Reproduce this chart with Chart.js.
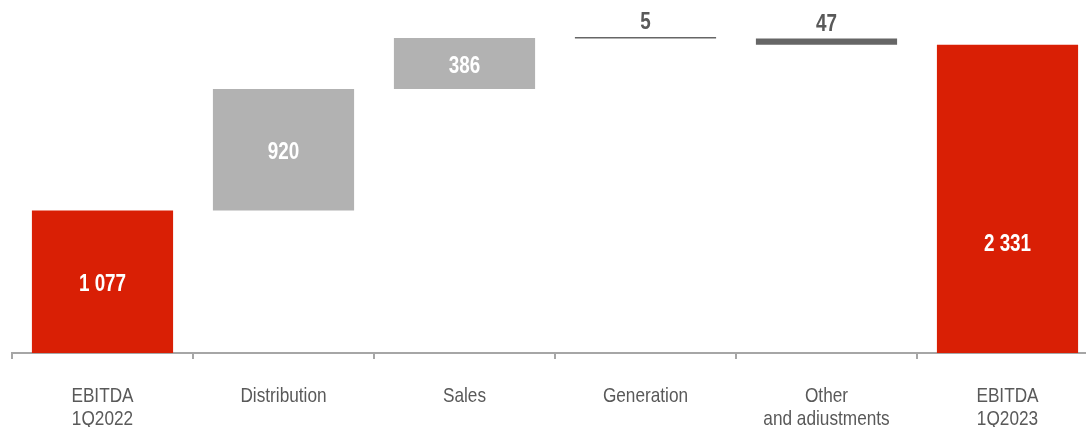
<!DOCTYPE html>
<html>
<head>
<meta charset="utf-8">
<script src="https://cdn.jsdelivr.net/npm/chart.js@4.4.1/dist/chart.umd.min.js"></script>
<style>
  html, body { margin: 0; padding: 0; background: #fff; overflow: hidden; }
  #wrap { width: 1100px; height: 427px; }
</style>
</head>
<body>
<div id="wrap"><canvas id="c"></canvas></div>
<script>
// EBITDA bridge, 1Q2022 -> 1Q2023
const categories = [["EBITDA", "1Q2022"], "Distribution", "Sales", "Generation", ["Other", "and adiustments"], ["EBITDA", "1Q2023"]];
const changes = [1077, 920, 386, -5, -47, 2331];
const kinds = ["total", "step", "step", "step", "step", "total"];
const valueLabels = ["1 077", "920", "386", "5", "47", "2 331"];

// Build floating [from, to] ranges for the waterfall
const ranges = [];
let running = 0;
changes.forEach((v, i) => {
  if (kinds[i] === "total") {
    ranges.push([0, v]);
    running = v;
  } else {
    ranges.push([running, running + v]);
    running += v;
  }
});

const colors = changes.map((v, i) => kinds[i] === "total" ? "#D91F05" : (v >= 0 ? "#B2B2B2" : "#666666"));
const FONT = "'Liberation Sans', Arial, sans-serif";
const NARROW = 0.82;      // horizontal squeeze for a condensed look
const GLYPH_SHIFT = 3;    // nudge so digits sit visually centred
const CLOSING_LABEL_AT = 0.36; // closing bar label height, as a share of the bar

// Draw condensed text centred at (x, y)
function narrowText(ctx, text, x, y) {
  ctx.save();
  ctx.translate(x, y);
  ctx.scale(NARROW, 1);
  ctx.fillText(text, 0, 0);
  ctx.restore();
}

const labelPlugin = {
  id: "labels",
  afterDatasetsDraw(chart) {
    const ctx = chart.ctx;
    const meta = chart.getDatasetMeta(0);
    const xScale = chart.scales.x;
    const axisY = chart.chartArea.bottom;
    ctx.save();
    ctx.textAlign = "center";
    ctx.textBaseline = "middle";

    // values on / above the bars
    ctx.font = "bold 23px " + FONT;
    const last = meta.data.length - 1;
    meta.data.forEach((bar, i) => {
      const top = Math.min(bar.y, bar.base);
      const bottom = Math.max(bar.y, bar.base);
      if (changes[i] < 0) {
        ctx.fillStyle = "#595959";
        narrowText(ctx, valueLabels[i], bar.x, top - 17 + GLYPH_SHIFT);
      } else {
        ctx.fillStyle = "#ffffff";
        const y = i === last
          ? bottom - (bottom - top) * CLOSING_LABEL_AT
          : (top + bottom) / 2;
        narrowText(ctx, valueLabels[i], bar.x, y + GLYPH_SHIFT);
      }
    });

    // category names under the axis
    ctx.font = "21px " + FONT;
    ctx.fillStyle = "#595959";
    categories.forEach((cat, i) => {
      const x = xScale.getPixelForTick(i);
      const lines = Array.isArray(cat) ? cat : [cat];
      lines.forEach((line, j) => narrowText(ctx, line, x, axisY + 43 + j * 23.5));
    });
    ctx.restore();
  }
};

new Chart(document.getElementById("c"), {
  type: "bar",
  data: {
    labels: categories,
    datasets: [{
      data: ranges,
      backgroundColor: colors,
      borderWidth: 0,
      minBarLength: 1.5,
      categoryPercentage: 1,
      barPercentage: 0.78
    }]
  },
  options: {
    responsive: true,
    maintainAspectRatio: false,
    animation: false,
    layout: { padding: { left: 12, right: 2, top: 0, bottom: 68 } },
    plugins: { legend: { display: false }, tooltip: { enabled: false } },
    scales: {
      y: {
        display: false,
        min: 0,
        max: 2670
      },
      x: {
        border: { display: true, color: "#A6A6A6", width: 2 },
        grid: { display: true, drawOnChartArea: false, color: "#A6A6A6", lineWidth: 2, tickLength: 6, offset: true },
        ticks: { display: false }
      }
    }
  },
  plugins: [labelPlugin]
});
</script>
</body>
</html>
